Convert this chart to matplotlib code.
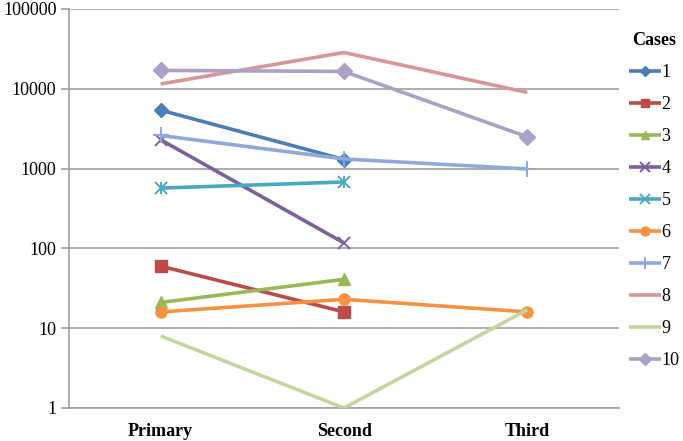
import matplotlib
matplotlib.use("Agg")
import matplotlib.pyplot as plt
import numpy as np

categories = ["Primary", "Second", "Third"]
case_labels = ["1", "2", "3", "4", "5", "6", "7", "8", "9", "10"]
nan = float("nan")
case1 = [5400, 1300, nan]
case2 = [60, 16, nan]
case3 = [21, 41, nan]
case4 = [2300, 117, nan]
case5 = [570, 680, nan]
case6 = [16, 23, 16]
case7 = [2600, 1320, 990]
case8 = [11500, 28500, 9000]
case9 = [8, 1, 17]
case10 = [17000, 16500, 2500]
series = [case1, case2, case3, case4, case5, case6, case7, case8, case9, case10]
yticks = [1, 10, 100, 1000, 10000, 100000]
ytick_labels = ["1", "10", "100", "1000", "10000", "100000"]

colors = ["#4A7EBB", "#BE4B48", "#98B954", "#7D60A0", "#46AAC5",
          "#F69240", "#8EA9DB", "#D99694", "#C3D69B", "#ABA0C8"]
markers = ["D", "s", "^", "x", "x", "o", "+", None, None, "D"]
msizes = [7, 8, 8, 9, 9, 8, 11, 0, 0, 8]

plt.rcParams['font.family'] = ['Liberation Serif', 'DejaVu Serif']
fig = plt.figure(figsize=(6.83, 4.41), dpi=100)
ax = fig.add_axes([69/683, 1-408/441, (619-69)/683, (408-9)/441])

x = np.arange(len(categories))
handles = []
for i, s in enumerate(series):
    y = np.array(s, dtype=float)
    m = markers[i]
    h, = ax.plot(x, y, color=colors[i], lw=2.6, marker=m if m else None,
                 markersize=msizes[i], markeredgewidth=1.4 if m in ("x", "+") else 1,
                 markeredgecolor=colors[i], markerfacecolor=colors[i],
                 label=case_labels[i], zorder=3, solid_capstyle='butt')
    if i == 4:
        ax.plot(x, y, linestyle='none', marker='|', markersize=9,
                markeredgewidth=1.4, color=colors[i], zorder=3)
    handles.append(h)

ax.set_yscale('log')
ax.set_ylim(1, 100000)
ax.set_xlim(-0.5, 2.5)
ax.set_yticks(yticks)
ax.set_yticklabels(ytick_labels, fontsize=13)
ax.yaxis.set_minor_locator(matplotlib.ticker.NullLocator())
ax.set_xticks(x)
ax.set_xticklabels(categories, fontsize=13, fontweight='bold')
ax.tick_params(axis='x', length=0, pad=11)
ax.tick_params(axis='y', length=6, width=1.2, color='#A0A0A0', pad=3)
ax.grid(axis='y', color='#A0A0A0', lw=1.2, zorder=0)
for sp in ['top', 'right']:
    ax.spines[sp].set_visible(False)
for sp in ['left', 'bottom']:
    ax.spines[sp].set_color('#A0A0A0')
    ax.spines[sp].set_linewidth(1.2)
ax.set_axisbelow(True)

leg = fig.legend(handles=handles, loc='upper left', bbox_to_anchor=(629/683, 1-32/441),
                 frameon=False, title="Cases", fontsize=13, handlelength=1.75,
                 handletextpad=0.05, labelspacing=0.83, borderaxespad=0,
                 borderpad=0, markerscale=0.8,
                 title_fontproperties={'weight': 'bold', 'size': 13})
for line in leg.get_lines():
    line.set_linewidth(2.6)

fig.savefig("out.png", dpi=100)
